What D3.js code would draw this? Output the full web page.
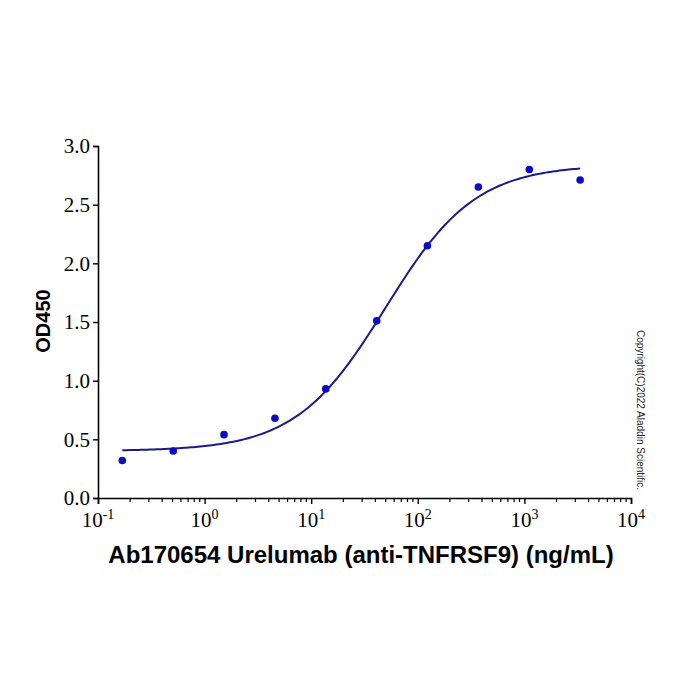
<!DOCTYPE html>
<html>
<head>
<meta charset="utf-8">
<script src="https://cdn.jsdelivr.net/npm/d3@7"></script>
<style>
  body { margin: 0; background: #fff; }
</style>
</head>
<body>
<div id="chart"></div>
<script>
// dilution series (ng/mL) and measured OD450
var conc = [0.169, 0.508, 1.52, 4.57, 13.7, 41.2, 123, 370, 1111, 3333];
var od = [0.32, 0.40, 0.54, 0.68, 0.93, 1.51, 2.15, 2.65, 2.80, 2.71];
// 4PL fit: bottom, top, EC50, hill
var fit = [0.40, 2.84, 49.7, 1.03];
var yTicks = [0, 0.5, 1.0, 1.5, 2.0, 2.5, 3.0];
var xTicks = [0.1, 1, 10, 100, 1000, 10000];
var xExp = ["-1", "0", "1", "2", "3", "4"];

function build_chart() {
    var width = 700, height = 700;
    var left = 98, right = 631, top = 146, bottom = 498;

    var svg = d3.select("#chart")
        .append("svg")
            .attr("width", width)
            .attr("height", height);

    var xScale = d3.scaleLog()
        .domain([0.1, 10000])
        .range([left, right]);

    var yScale = d3.scaleLinear()
        .domain([0, 3])
        .range([bottom, top]);

    // x axis, major ticks with 10^n labels
    var xAxis = svg.append("g")
        .attr("transform", "translate(0," + bottom + ")")
        .call(d3.axisBottom(xScale).tickValues(xTicks).tickSize(6).tickFormat(""));
    xAxis.select(".domain").attr("stroke-width", 1.6);
    xAxis.selectAll(".tick line").attr("stroke-width", 1.4);

    // minor ticks
    var minor = [];
    for (var e = -1; e < 4; e++) {
        for (var m = 2; m < 10; m++) minor.push(m * Math.pow(10, e));
    }
    svg.append("g")
        .selectAll("line")
        .data(minor)
        .enter()
        .append("line")
            .attr("x1", function(d){return xScale(d);})
            .attr("x2", function(d){return xScale(d);})
            .attr("y1", bottom)
            .attr("y2", bottom + 4)
            .attr("stroke", "#000")
            .attr("stroke-width", 1.2);

    var lbl = svg.append("g")
        .selectAll("text")
        .data(xTicks)
        .enter()
        .append("text")
            .attr("x", function(d){return xScale(d);})
            .attr("y", bottom + 29)
            .attr("text-anchor", "middle")
            .attr("font-family", "Liberation Serif")
            .attr("font-size", 21)
            .attr("fill", "#000");
    lbl.append("tspan").text("10");
    lbl.append("tspan")
        .attr("dy", -8)
        .attr("font-size", 14)
        .text(function(d, i){return xExp[i];});

    // y axis
    var yAxis = svg.append("g")
        .attr("transform", "translate(" + left + ",0)")
        .call(d3.axisLeft(yScale).tickValues(yTicks).tickSize(5).tickPadding(3).tickFormat(d3.format(".1f")));
    yAxis.select(".domain").attr("stroke-width", 1.6);
    yAxis.selectAll(".tick line").attr("stroke-width", 1.4);
    yAxis.selectAll("text")
        .attr("font-family", "Liberation Serif")
        .attr("font-size", 21)
        .attr("fill", "#000");

    // fitted curve
    var curveX = d3.range(0, 201).map(function(i){
        var lo = Math.log10(conc[0]), hi = Math.log10(conc[conc.length - 1]);
        return Math.pow(10, lo + (hi - lo) * i / 200);
    });
    function fourPL(x) {
        return fit[0] + (fit[1] - fit[0]) / (1 + Math.pow(fit[2] / x, fit[3]));
    }
    svg.append("path")
        .datum(curveX)
        .attr("fill", "none")
        .attr("stroke", "#1a1a8a")
        .attr("stroke-width", 2)
        .attr("d", d3.line()
            .x(function(d){return xScale(d);})
            .y(function(d){return yScale(fourPL(d));}));

    // data points
    svg.append("g")
        .selectAll("circle")
        .data(conc)
        .enter()
        .append("circle")
            .attr("cx", function(d){return xScale(d);})
            .attr("cy", function(d, i){return yScale(od[i]);})
            .attr("r", 3.8)
            .attr("fill", "#0a0ac8");

    // titles
    svg.append("text")
        .attr("x", 361)
        .attr("y", 563)
        .attr("text-anchor", "middle")
        .attr("font-family", "Liberation Sans")
        .attr("font-weight", "bold")
        .attr("font-size", 24)
        .text("Ab170654 Urelumab (anti-TNFRSF9) (ng/mL)");

    svg.append("text")
        .attr("transform", "translate(50,321) rotate(-90)")
        .attr("text-anchor", "middle")
        .attr("font-family", "Liberation Sans")
        .attr("font-weight", "bold")
        .attr("font-size", 20)
        .text("OD450");

    svg.append("text")
        .attr("transform", "translate(637,410) rotate(90)")
        .attr("text-anchor", "middle")
        .attr("font-family", "Liberation Sans")
        .attr("font-size", 10)
        .attr("fill", "#222")
        .text("Copyright(C)2022 Aladdin Scientific.");
}
build_chart()
</script>
</body>
</html>
